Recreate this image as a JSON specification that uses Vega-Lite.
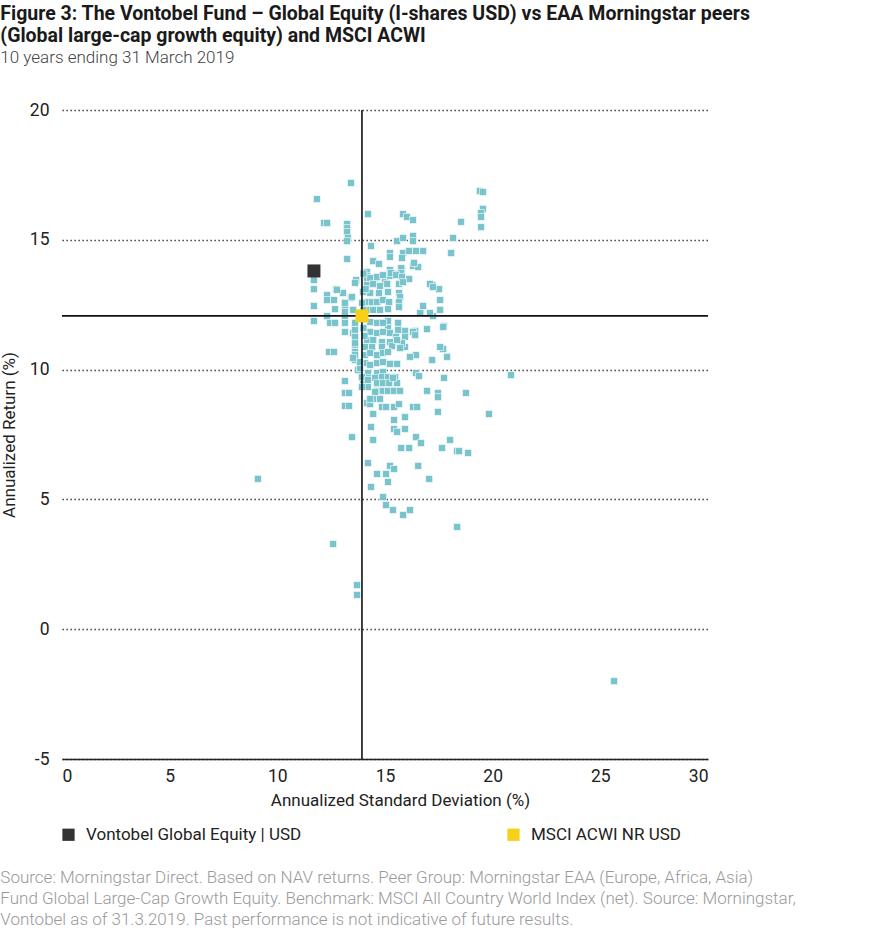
{
  "$schema": "https://vega.github.io/schema/vega-lite/v6.json",
  "padding": {"left": 0, "top": 3, "right": 5, "bottom": 5},
  "background": "white",
  "title": {
    "text": ["Figure 3: The Vontobel Fund – Global Equity (I-shares USD) vs EAA Morningstar peers", "(Global large-cap growth equity) and MSCI ACWI"],
    "subtitle": "10 years ending 31 March 2019",
    "anchor": "start",
    "frame": "bounds",
    "font": "Roboto",
    "fontSize": 19.5,
    "fontWeight": "bold",
    "lineHeight": 22,
    "color": "#1a1a1a",
    "subtitleFont": "Roboto",
    "subtitleFontSize": 17,
    "subtitleFontWeight": 300,
    "subtitleColor": "#444444",
    "subtitlePadding": 4,
    "offset": 34
  },
  "datasets": {
    "funds": [
      {"name": "Vontobel Global Equity | USD", "sd": 11.70, "ret": 13.80},
      {"name": "MSCI ACWI NR USD", "sd": 13.93, "ret": 12.07}
    ],
    "peers": [
      {"sd": 13.42, "ret": 17.19}, {"sd": 11.84, "ret": 16.57}, {"sd": 12.17, "ret": 15.65}, {"sd": 12.31, "ret": 15.65},
      {"sd": 13.24, "ret": 15.61}, {"sd": 13.24, "ret": 15.45}, {"sd": 13.24, "ret": 15.30}, {"sd": 13.28, "ret": 15.07},
      {"sd": 13.24, "ret": 14.95}, {"sd": 13.24, "ret": 14.26}, {"sd": 14.21, "ret": 15.99}, {"sd": 15.84, "ret": 15.99},
      {"sd": 16.02, "ret": 15.88}, {"sd": 16.30, "ret": 15.76}, {"sd": 18.53, "ret": 15.69}, {"sd": 18.16, "ret": 15.07},
      {"sd": 15.56, "ret": 14.95}, {"sd": 15.84, "ret": 15.07}, {"sd": 16.30, "ret": 15.15}, {"sd": 16.30, "ret": 14.95},
      {"sd": 19.41, "ret": 16.88}, {"sd": 19.55, "ret": 16.84}, {"sd": 19.55, "ret": 16.19}, {"sd": 19.46, "ret": 16.03},
      {"sd": 19.46, "ret": 15.88}, {"sd": 19.46, "ret": 15.49}, {"sd": 14.35, "ret": 14.76}, {"sd": 15.23, "ret": 14.49},
      {"sd": 15.23, "ret": 14.34}, {"sd": 15.84, "ret": 14.49}, {"sd": 16.12, "ret": 14.57}, {"sd": 16.44, "ret": 14.57},
      {"sd": 16.77, "ret": 14.57}, {"sd": 18.07, "ret": 14.49}, {"sd": 15.79, "ret": 14.30}, {"sd": 14.45, "ret": 14.18},
      {"sd": 14.72, "ret": 14.07}, {"sd": 16.30, "ret": 13.99}, {"sd": 16.54, "ret": 13.95}, {"sd": 15.23, "ret": 13.84},
      {"sd": 14.17, "ret": 13.76}, {"sd": 14.17, "ret": 13.61}, {"sd": 14.17, "ret": 13.45}, {"sd": 14.17, "ret": 13.26},
      {"sd": 14.58, "ret": 13.53}, {"sd": 15.00, "ret": 13.37}, {"sd": 15.23, "ret": 13.61}, {"sd": 15.56, "ret": 13.68},
      {"sd": 15.79, "ret": 13.88}, {"sd": 16.12, "ret": 13.49}, {"sd": 13.66, "ret": 13.45}, {"sd": 17.19, "ret": 13.26},
      {"sd": 17.51, "ret": 13.10}, {"sd": 17.56, "ret": 12.68}, {"sd": 17.56, "ret": 12.30}, {"sd": 16.77, "ret": 12.45},
      {"sd": 16.67, "ret": 12.18}, {"sd": 17.23, "ret": 12.06}, {"sd": 17.74, "ret": 11.68}, {"sd": 16.95, "ret": 11.56},
      {"sd": 16.40, "ret": 11.49}, {"sd": 15.93, "ret": 11.49}, {"sd": 15.61, "ret": 11.80}, {"sd": 15.61, "ret": 11.53},
      {"sd": 15.14, "ret": 11.87}, {"sd": 15.14, "ret": 11.60}, {"sd": 11.70, "ret": 13.45}, {"sd": 11.70, "ret": 13.10},
      {"sd": 11.70, "ret": 12.45}, {"sd": 11.70, "ret": 11.87}, {"sd": 12.73, "ret": 13.10}, {"sd": 13.05, "ret": 12.95},
      {"sd": 12.31, "ret": 12.87}, {"sd": 12.31, "ret": 12.68}, {"sd": 12.63, "ret": 12.68}, {"sd": 13.42, "ret": 12.76},
      {"sd": 12.68, "ret": 12.33}, {"sd": 13.14, "ret": 12.45}, {"sd": 12.31, "ret": 12.06}, {"sd": 12.45, "ret": 11.80},
      {"sd": 12.68, "ret": 11.80}, {"sd": 13.14, "ret": 12.06}, {"sd": 13.14, "ret": 11.80}, {"sd": 13.14, "ret": 11.45},
      {"sd": 13.52, "ret": 11.41}, {"sd": 13.61, "ret": 11.80}, {"sd": 12.40, "ret": 10.68}, {"sd": 12.63, "ret": 10.68},
      {"sd": 13.61, "ret": 10.95}, {"sd": 13.61, "ret": 10.68}, {"sd": 13.61, "ret": 10.37}, {"sd": 13.75, "ret": 9.98},
      {"sd": 13.14, "ret": 9.56}, {"sd": 13.14, "ret": 9.10}, {"sd": 13.33, "ret": 9.10}, {"sd": 13.14, "ret": 8.60},
      {"sd": 13.33, "ret": 8.60}, {"sd": 13.47, "ret": 7.40}, {"sd": 14.21, "ret": 6.40}, {"sd": 14.35, "ret": 7.79},
      {"sd": 14.45, "ret": 7.29}, {"sd": 14.45, "ret": 8.29}, {"sd": 14.17, "ret": 8.71}, {"sd": 14.31, "ret": 8.67},
      {"sd": 14.45, "ret": 8.87}, {"sd": 14.77, "ret": 8.87}, {"sd": 14.86, "ret": 8.56}, {"sd": 15.05, "ret": 8.56},
      {"sd": 15.42, "ret": 8.56}, {"sd": 15.65, "ret": 8.67}, {"sd": 15.93, "ret": 8.17}, {"sd": 15.42, "ret": 8.06},
      {"sd": 15.42, "ret": 7.71}, {"sd": 15.56, "ret": 7.60}, {"sd": 15.93, "ret": 7.71}, {"sd": 16.30, "ret": 8.56},
      {"sd": 16.49, "ret": 8.56}, {"sd": 16.44, "ret": 7.40}, {"sd": 16.67, "ret": 7.17}, {"sd": 15.75, "ret": 6.98},
      {"sd": 16.12, "ret": 6.98}, {"sd": 15.23, "ret": 6.29}, {"sd": 15.42, "ret": 6.17}, {"sd": 14.63, "ret": 5.98},
      {"sd": 15.05, "ret": 5.98}, {"sd": 15.14, "ret": 5.67}, {"sd": 16.54, "ret": 6.29}, {"sd": 17.05, "ret": 5.79},
      {"sd": 18.02, "ret": 7.29}, {"sd": 17.65, "ret": 6.98}, {"sd": 18.35, "ret": 6.86}, {"sd": 18.44, "ret": 6.86},
      {"sd": 18.86, "ret": 6.79}, {"sd": 19.83, "ret": 8.29}, {"sd": 18.76, "ret": 9.10}, {"sd": 17.46, "ret": 9.10},
      {"sd": 17.46, "ret": 8.94}, {"sd": 17.46, "ret": 8.37}, {"sd": 16.95, "ret": 9.18}, {"sd": 17.74, "ret": 9.68},
      {"sd": 16.44, "ret": 9.87}, {"sd": 16.58, "ret": 9.75}, {"sd": 20.85, "ret": 9.79}, {"sd": 17.70, "ret": 10.79},
      {"sd": 17.88, "ret": 10.49}, {"sd": 17.19, "ret": 10.37}, {"sd": 16.44, "ret": 10.56}, {"sd": 16.16, "ret": 10.49},
      {"sd": 15.93, "ret": 10.87}, {"sd": 15.93, "ret": 11.26}, {"sd": 16.30, "ret": 11.45}, {"sd": 9.10, "ret": 5.79},
      {"sd": 14.35, "ret": 5.48}, {"sd": 14.91, "ret": 5.09}, {"sd": 15.05, "ret": 4.78}, {"sd": 15.37, "ret": 4.59},
      {"sd": 15.84, "ret": 4.40}, {"sd": 16.16, "ret": 4.59}, {"sd": 18.35, "ret": 3.94}, {"sd": 12.59, "ret": 3.28},
      {"sd": 13.70, "ret": 1.70}, {"sd": 13.70, "ret": 1.32}, {"sd": 25.64, "ret": -2.00},
      {"sd": 15.28, "ret": 13.72}, {"sd": 15.75, "ret": 13.91}, {"sd": 15.75, "ret": 13.72}, {"sd": 14.31, "ret": 13.53},
      {"sd": 14.63, "ret": 13.57}, {"sd": 14.91, "ret": 13.64}, {"sd": 15.51, "ret": 13.64}, {"sd": 15.79, "ret": 13.57},
      {"sd": 13.61, "ret": 13.34}, {"sd": 14.45, "ret": 13.30}, {"sd": 14.77, "ret": 13.22}, {"sd": 15.10, "ret": 13.30},
      {"sd": 15.65, "ret": 13.30}, {"sd": 17.09, "ret": 13.30}, {"sd": 17.23, "ret": 13.18}, {"sd": 12.77, "ret": 13.07},
      {"sd": 13.47, "ret": 12.80}, {"sd": 13.98, "ret": 12.99}, {"sd": 14.31, "ret": 12.95}, {"sd": 14.72, "ret": 12.95},
      {"sd": 15.14, "ret": 12.99}, {"sd": 15.65, "ret": 12.95}, {"sd": 15.70, "ret": 12.80}, {"sd": 14.17, "ret": 12.60},
      {"sd": 14.40, "ret": 12.60}, {"sd": 14.63, "ret": 12.60}, {"sd": 14.91, "ret": 12.68}, {"sd": 15.19, "ret": 12.60},
      {"sd": 15.65, "ret": 12.60}, {"sd": 15.65, "ret": 12.41}, {"sd": 13.14, "ret": 12.57}, {"sd": 13.14, "ret": 12.22},
      {"sd": 13.52, "ret": 12.30}, {"sd": 14.17, "ret": 12.30}, {"sd": 14.45, "ret": 12.30}, {"sd": 14.77, "ret": 12.30},
      {"sd": 15.14, "ret": 12.33}, {"sd": 16.63, "ret": 12.18}, {"sd": 17.09, "ret": 12.18}, {"sd": 14.31, "ret": 11.83},
      {"sd": 14.63, "ret": 11.80}, {"sd": 14.91, "ret": 11.80}, {"sd": 17.70, "ret": 11.64}, {"sd": 13.61, "ret": 11.53},
      {"sd": 14.31, "ret": 11.45}, {"sd": 14.63, "ret": 11.41}, {"sd": 14.91, "ret": 11.45}, {"sd": 15.23, "ret": 11.41},
      {"sd": 15.51, "ret": 11.26}, {"sd": 16.40, "ret": 11.33}, {"sd": 13.61, "ret": 11.26}, {"sd": 14.17, "ret": 11.14},
      {"sd": 14.45, "ret": 11.14}, {"sd": 14.86, "ret": 11.06}, {"sd": 15.23, "ret": 11.06}, {"sd": 15.79, "ret": 11.02},
      {"sd": 14.07, "ret": 10.87}, {"sd": 14.40, "ret": 10.87}, {"sd": 14.86, "ret": 10.87}, {"sd": 15.33, "ret": 10.91},
      {"sd": 15.70, "ret": 10.83}, {"sd": 17.56, "ret": 10.87}, {"sd": 15.56, "ret": 11.14}, {"sd": 14.07, "ret": 10.56},
      {"sd": 14.31, "ret": 10.64}, {"sd": 14.63, "ret": 10.56}, {"sd": 14.91, "ret": 10.64}, {"sd": 15.14, "ret": 10.68},
      {"sd": 14.07, "ret": 10.25}, {"sd": 14.31, "ret": 10.18}, {"sd": 14.63, "ret": 10.25}, {"sd": 14.91, "ret": 10.29},
      {"sd": 15.23, "ret": 10.22}, {"sd": 15.56, "ret": 10.22}, {"sd": 13.84, "ret": 10.06}, {"sd": 14.21, "ret": 9.87},
      {"sd": 14.63, "ret": 9.87}, {"sd": 14.91, "ret": 9.91}, {"sd": 14.21, "ret": 9.68}, {"sd": 14.54, "ret": 9.68},
      {"sd": 14.86, "ret": 9.71}, {"sd": 15.14, "ret": 9.71}, {"sd": 15.47, "ret": 9.71}, {"sd": 13.98, "ret": 9.48},
      {"sd": 14.21, "ret": 9.33}, {"sd": 14.63, "ret": 9.48}, {"sd": 14.91, "ret": 9.48}, {"sd": 15.19, "ret": 9.48},
      {"sd": 15.56, "ret": 9.48}, {"sd": 14.63, "ret": 9.18}, {"sd": 14.91, "ret": 9.18}, {"sd": 15.14, "ret": 9.18},
      {"sd": 15.42, "ret": 9.18}, {"sd": 15.70, "ret": 9.18}, {"sd": 14.31, "ret": 8.87}, {"sd": 13.93, "ret": 9.71},
      {"sd": 13.93, "ret": 9.33}, {"sd": 14.21, "ret": 9.60}, {"sd": 14.54, "ret": 9.14}, {"sd": 15.37, "ret": 9.68},
      {"sd": 13.93, "ret": 12.57}, {"sd": 13.61, "ret": 11.02}, {"sd": 13.61, "ret": 10.56}, {"sd": 13.84, "ret": 10.29},
      {"sd": 15.84, "ret": 13.37}, {"sd": 16.35, "ret": 14.11}, {"sd": 13.52, "ret": 10.45}, {"sd": 14.03, "ret": 11.95},
      {"sd": 14.00, "ret": 11.60}, {"sd": 14.05, "ret": 11.30}, {"sd": 14.00, "ret": 12.30}, {"sd": 14.10, "ret": 13.10},
      {"sd": 14.00, "ret": 13.70}
    ]
  },
  "vconcat": [
    {
      "width": 646,
      "height": 649,
      "title": {
        "text": [
          "Source: Morningstar Direct. Based on NAV returns. Peer Group: Morningstar EAA (Europe, Africa, Asia)",
          "Fund Global Large-Cap Growth Equity. Benchmark: MSCI All Country World Index (net). Source: Morningstar,",
          "Vontobel as of 31.3.2019. Past performance is not indicative of future results."
        ],
        "orient": "bottom",
        "anchor": "start",
        "frame": "bounds",
        "font": "Roboto",
        "fontSize": 17,
        "fontWeight": 300,
        "color": "#9a9a9a",
        "lineHeight": 21,
        "offset": 61
      },
      "layer": [
        {
          "data": {"name": "peers"},
          "mark": {"type": "square", "size": 49, "color": "#78c3cc", "opacity": 1, "stroke": "#ffffff", "strokeWidth": 0.6},
          "encoding": {
            "x": {
              "field": "sd", "type": "quantitative",
              "scale": {"domain": [0, 30], "nice": false},
              "axis": {
                "title": "Annualized Standard Deviation (%)",
                "values": [0, 5, 10, 15, 20, 25, 30],
                "grid": false, "domain": true, "domainColor": "#222222", "domainWidth": 1.5,
                "ticks": false, "labelPadding": 8, "titlePadding": 8, "titleX": 338
              }
            },
            "y": {
              "field": "ret", "type": "quantitative",
              "scale": {"domain": [-5, 20], "nice": false},
              "axis": {
                "title": "Annualized Return (%)",
                "values": [-5, 0, 5, 10, 15, 20],
                "labelExpr": "'' + datum.value",
                "grid": true, "gridDash": [1.3, 2.7], "gridColor": "#222222", "gridWidth": 1.5,
                "domain": false, "ticks": false, "labelPadding": 13, "titlePadding": 11
              }
            }
          }
        },
        {
          "data": {"name": "funds"},
          "transform": [{"filter": "datum.name === 'MSCI ACWI NR USD'"}],
          "mark": {"type": "rule", "color": "#111111", "strokeWidth": 1.6},
          "encoding": {"x": {"field": "sd", "type": "quantitative"}}
        },
        {
          "data": {"name": "funds"},
          "transform": [{"filter": "datum.name === 'MSCI ACWI NR USD'"}],
          "mark": {"type": "rule", "color": "#111111", "strokeWidth": 1.6},
          "encoding": {"y": {"field": "ret", "type": "quantitative"}}
        },
        {
          "data": {"name": "funds"},
          "mark": {"type": "square", "size": 169, "opacity": 1},
          "encoding": {
            "x": {"field": "sd", "type": "quantitative"},
            "y": {"field": "ret", "type": "quantitative"},
            "color": {
              "field": "name", "type": "nominal",
              "scale": {"domain": ["Vontobel Global Equity | USD", "MSCI ACWI NR USD"], "range": ["#333333", "#f7d117"]},
              "legend": {
                "title": null, "orient": "none", "legendX": -2, "legendY": 716,
                "direction": "horizontal", "columns": 2, "columnPadding": 203,
                "symbolType": "square", "symbolSize": 150, "symbolStrokeWidth": 0, "symbolOpacity": 1,
                "labelFont": "Roboto", "labelFontSize": 17, "labelColor": "#222222", "labelOffset": 9, "labelLimit": 400
              }
            }
          }
        }
      ]
    }
  ],
  "config": {
    "font": "Roboto",
    "view": {"stroke": null},
    "axis": {
      "labelFont": "Roboto", "labelFontSize": 17.5, "labelColor": "#222222",
      "titleFont": "Roboto", "titleFontSize": 17, "titleFontWeight": "normal", "titleColor": "#222222"
    }
  }
}
